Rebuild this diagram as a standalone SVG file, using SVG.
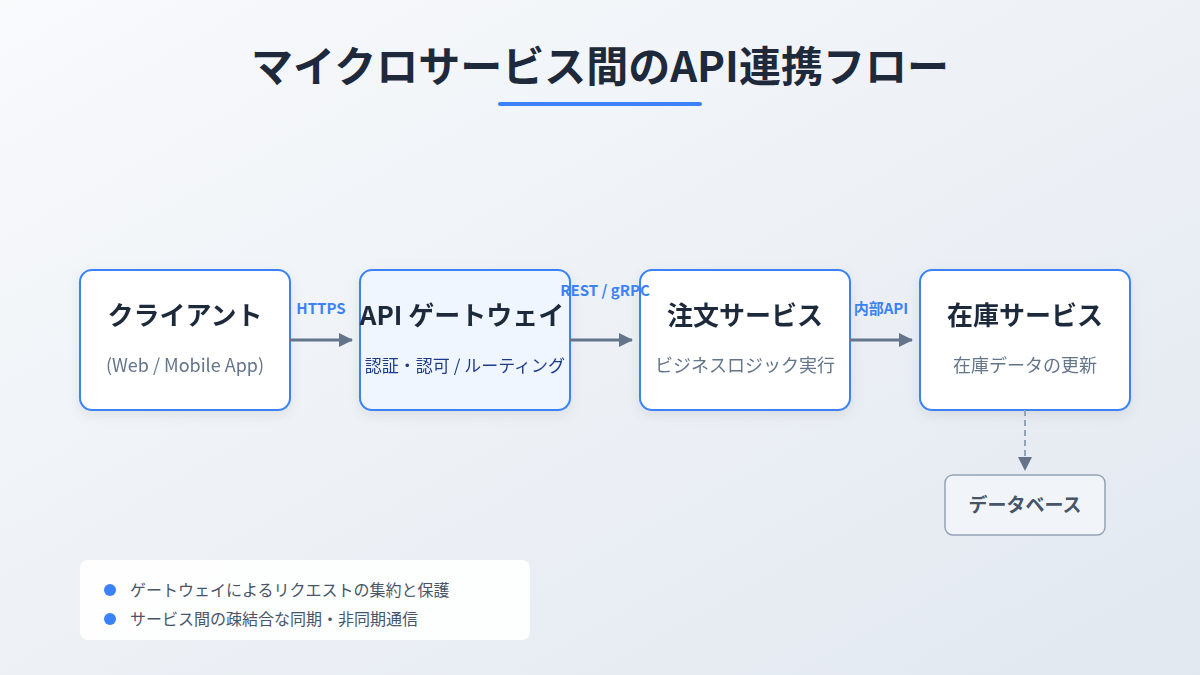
<svg xmlns="http://www.w3.org/2000/svg" width="1200" height="675" viewBox="0 0 1200 675">
<defs>
<linearGradient id="bg" x1="0" y1="0" x2="1" y2="1"><stop offset="0" stop-color="#f8fafc"/><stop offset="1" stop-color="#e2e8f0"/></linearGradient>
<filter id="sh" x="-20%" y="-20%" width="140%" height="150%"><feDropShadow dx="0" dy="4" stdDeviation="6" flood-color="#0f172a" flood-opacity="0.08"/></filter>
<marker id="ah2" markerWidth="14" markerHeight="14" refX="13" refY="7" orient="auto" markerUnits="userSpaceOnUse"><path d="M0,0 L14,7 L0,14 z" fill="#64748b"/></marker>
<style>
text{font-family:"Noto Sans CJK JP","Noto Sans",sans-serif}
.box{fill:#fff;stroke:#3b82f6;stroke-width:2}
.t{font-size:26px;font-weight:700;fill:#1e293b;text-anchor:middle}
.s{font-size:18px;fill:#64748b;text-anchor:middle}
.lbl{font-size:15px;font-weight:700;fill:#3b82f6;text-anchor:middle}
.c{stroke:#64748b;stroke-width:3;fill:none}
.leg{font-size:16px;fill:#475569}
</style>
</defs>
<rect width="1200" height="675" fill="url(#bg)"/>
<text x="600" y="82" font-size="42" font-weight="700" fill="#1e293b" text-anchor="middle">マイクロサービス間のAPI連携フロー</text>
<rect x="498" y="102" width="204" height="4" rx="2" fill="#3b82f6"/>
<g id="client" filter="url(#sh)"><rect class="box" x="80" y="270" width="210" height="140" rx="12"/>
<text class="t" x="185" y="325">クライアント</text><text class="s" x="185" y="372">(Web / Mobile App)</text></g>
<g id="gateway" filter="url(#sh)"><rect class="box" x="360" y="270" width="210" height="140" rx="12" style="fill:#eff6ff"/>
<text class="t" x="462" y="325">API ゲートウェイ</text><text class="s" x="465" y="372" style="fill:#1e3a8a;font-size:17px">認証・認可 / ルーティング</text></g>
<g id="order" filter="url(#sh)"><rect class="box" x="640" y="270" width="210" height="140" rx="12"/>
<text class="t" x="745" y="325">注文サービス</text><text class="s" x="745" y="372">ビジネスロジック実行</text></g>
<g id="inventory" filter="url(#sh)"><rect class="box" x="920" y="270" width="210" height="140" rx="12"/>
<text class="t" x="1025" y="325">在庫サービス</text><text class="s" x="1025" y="372">在庫データの更新</text></g>
<g id="database"><rect x="945" y="475" width="160" height="60" rx="8" fill="#f1f5f9" stroke="#94a3b8" stroke-width="1.5"/>
<text x="1025" y="512" font-size="19" font-weight="700" fill="#475569" text-anchor="middle">データベース</text></g>
<g id="connectors">
<line class="c" x1="290" y1="340" x2="352" y2="340" marker-end="url(#ah2)"/>
<line class="c" x1="570" y1="340" x2="632" y2="340" marker-end="url(#ah2)"/>
<line class="c" x1="850" y1="340" x2="912" y2="340" marker-end="url(#ah2)"/>
<line x1="1025" y1="410" x2="1025" y2="470" stroke="#94a3b8" stroke-width="2" stroke-dasharray="6,4" marker-end="url(#ah2)"/>
<text class="lbl" x="321" y="314">HTTPS</text>
<text class="lbl" x="605" y="296">REST / gRPC</text>
<text class="lbl" x="881" y="314">内部API</text>
</g>
<g id="legend"><rect x="80" y="560" width="450" height="80" rx="8" fill="#fff" opacity="0.9"/>
<circle cx="110" cy="590" r="6" fill="#3b82f6"/><text class="leg" x="130" y="596">ゲートウェイによるリクエストの集約と保護</text>
<circle cx="110" cy="619" r="6" fill="#3b82f6"/><text class="leg" x="130" y="625">サービス間の疎結合な同期・非同期通信</text></g>
</svg>
